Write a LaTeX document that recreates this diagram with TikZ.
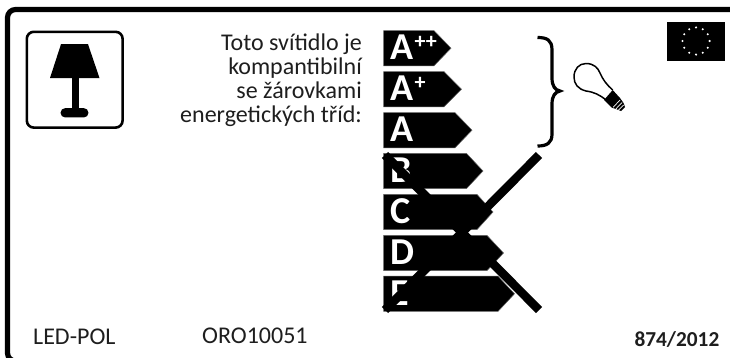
\documentclass[tikz,border=0pt]{standalone}
\usepackage{fontspec}
\setmainfont{Carlito}
\definecolor{inkc}{HTML}{1E1E1E}
\tikzset{
  px/.style={x=1pt,y=-1pt},
  arrowbox/.style={fill=black,draw=black!60,line width=0.5pt},
  classtext/.style={text=white,font=\bfseries\fontsize{38}{38}\selectfont,anchor=base west,inner sep=0pt},
  plustext/.style={text=white,font=\bfseries\fontsize{22}{22}\selectfont,anchor=base west,inner sep=0pt},
  caption/.style={text=inkc,inner sep=0pt,font=\fontsize{24}{24}\selectfont},
  crossline/.style={line width=8.6pt,black},
  starpt/.style={fill=white,draw=none}
}
\newcommand{\energyarrow}[5]{%
  \fill[arrowbox] (383.5,#1) -- (#2,#1) -- (#3,#1+17.6) -- (#2,#1+35.2) -- (383.5,#1+35.2) -- cycle;
  \node[classtext] (#4) at (390.5,#1+29) {#5};
}
\begin{document}
\begin{tikzpicture}[px]
\useasboundingbox (0,0) rectangle (730,357);
\begin{scope}
\clip (0,0) rectangle (730,357);
\fill[white] (0,0) rectangle (730,357);
\draw[line width=5.2pt,rounded corners=8pt,black] (7.5,9.5) rectangle (745,361);
\end{scope}
% lamp sign
\draw[line width=2.6pt,rounded corners=7pt,black] (26.8,31.8) rectangle (122.6,127.6);
\fill[black] (61,44.2) -- (88,44.2) -- (99.5,78) -- (50,78) -- cycle;
\fill[black] (71.8,77) rectangle (78.6,110);
\fill[black,rounded corners=4.4pt] (60.6,108.2) rectangle (88.4,117.4);
% caption
\node[caption,anchor=base east] (l1) at (362,50) {Toto svítidlo je};
\node[caption,anchor=base east] (l2) at (362,74) {kompantibilní};
\node[caption,anchor=base east] (l3) at (362,98) {se žárovkami};
\node[caption,anchor=base east] (l4) at (362,122) {energetických tříd:};
% energy arrows
\energyarrow{30.6}{434}{451}{app}{A}
\node[plustext] (appsup) at (414.5,48) {++};
\energyarrow{71.6}{444}{461.5}{ap}{A}
\node[plustext] (apsup) at (414.5,89) {+};
\energyarrow{112.6}{455}{472}{a}{A}
\energyarrow{153.4}{466.5}{483}{b}{B}
\energyarrow{194.4}{477}{493}{c}{C}
\energyarrow{235.4}{487}{503.5}{d}{D}
\energyarrow{276.2}{498}{514.5}{e}{E}
% cross
\draw[crossline] (385,155) -- (539,310);
\draw[crossline] (539,155) -- (385,310);
% brace
\draw[line width=3.2pt,black] (537.5,37.5) .. controls (547,37.5) and (552,40) .. (552,50)
  -- (552,78) .. controls (552,86) and (555,90) .. (560,91)
  .. controls (555,92) and (552,96) .. (552,104)
  -- (552,134) .. controls (552,143) and (547,146) .. (537.5,146);
% bulb
\draw[line width=1.5pt,black,line join=round] (606,100) .. controls (600,95) and (594,92) .. (586,91)
  .. controls (578,89) and (574,84) .. (574,77)
  .. controls (574,69) and (579,63.5) .. (586,63.5)
  .. controls (594,63.5) and (598,68) .. (600,73)
  .. controls (603,80) and (607,85) .. (612.7,90);
\fill[black] (612.7,90) -- (620,98) -- (623.5,103) -- (625,107) -- (621,111) -- (616,109) -- (611.5,107.5) -- (604,100) -- cycle;
\draw[white,line width=0.7pt] (620,100) -- (613,107.5);
\draw[white,line width=0.7pt] (622,102.5) -- (615.5,109.3);
\draw[white,line width=0.7pt] (623.6,105) -- (618,110.6);
% EU flag
\fill[black] (667,22) rectangle (725,61);
\foreach \a in {0,30,...,330}{
  \fill[starpt] ({696+13.6*cos(\a)},{41+13.6*sin(\a)}) circle (1.15pt);
}
% bottom texts
\node[caption,anchor=base west] (led) at (33,344.5) {LED-POL};
\node[caption,anchor=base west] (oro) at (202,343) {ORO10051};
\node[caption,anchor=base east,font=\bfseries\fontsize{21.3}{21.3}\selectfont] (reg) at (719.5,346) {874/2012};
\end{tikzpicture}
\end{document}
